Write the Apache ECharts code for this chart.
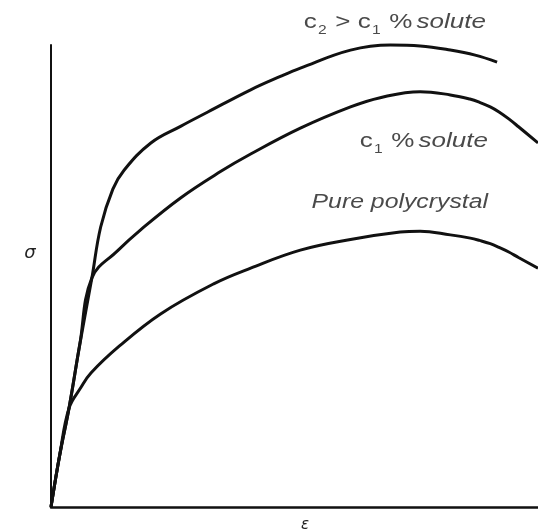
<!DOCTYPE html>
<html>
<head>
<meta charset="utf-8">
<script src="https://cdn.jsdelivr.net/npm/echarts@6/dist/echarts.min.js"></script>
<style>
  html, body { margin: 0; padding: 0; background: #fff; }
  #chart { width: 538px; height: 531px; }
</style>
</head>
<body>
<div id="chart"></div>
<script>
// Strain (ε) and stress (σ) in arbitrary units (axis spans 0–100 on both)
const strainPure = [0, 1.8, 3.7, 6.1, 8.2, 14.0, 22.5, 33.4, 41.0, 51.2, 61.5, 71.7, 75.8, 82.0, 86.1, 88.0, 90.2, 92.0, 94.0, 96.0, 100];
const stressPure = [0, 11.3, 21.4, 25.8, 29.0, 34.8, 41.8, 48.3, 51.7, 55.6, 57.9, 59.5, 59.7, 58.9, 58.2, 57.7, 57.0, 56.2, 55.2, 54.0, 51.7];

const strainC1 = [0, 1.8, 3.7, 5.9, 8.4, 13.7, 18.4, 26.6, 34.8, 41.0, 51.2, 61.5, 67.6, 75.8, 82.0, 86.0, 88.0, 90.2, 92.0, 94.0, 96.0, 100];
const stressC1 = [0, 11.3, 21.4, 35.1, 49.6, 55.5, 60.0, 66.9, 72.6, 76.4, 82.0, 86.6, 88.6, 89.9, 89.2, 88.3, 87.6, 86.6, 85.5, 84.0, 82.3, 78.8];

const strainC2 = [0, 1.8, 3.7, 5.9, 8.4, 10.2, 12.7, 15.0, 20.5, 26.6, 32.2, 41.0, 47.1, 51.2, 61.5, 69.7, 75.8, 82.0, 87.1, 91.6];
const stressC2 = [0, 11.3, 21.4, 35.1, 49.6, 60.6, 68.8, 72.9, 78.8, 82.4, 85.5, 90.3, 93.2, 95.0, 98.9, 100, 99.8, 98.9, 97.8, 96.3];

const seriesNames = ['c₂ > c₁ % solute', 'c₁ % solute', 'Pure polycrystal'];
const axisNames = ['ε', 'σ'];

function zip(xs, ys) { return xs.map((x, i) => [x, ys[i]]); }

const chart = echarts.init(document.getElementById('chart'), null, { renderer: 'canvas' });

const lineStyle = { color: '#111', width: 3 };
const textColor = '#4a4a4a';
const richStyles = {
  n: { fontFamily: 'Liberation Sans', fontSize: 20, lineHeight: 22, verticalAlign: 'top', fill: textColor },
  s: { fontFamily: 'Liberation Sans', fontSize: 12, lineHeight: 12, padding: [13, 1, 0, 1], verticalAlign: 'top', fill: textColor },
  i: { fontFamily: 'Liberation Sans', fontStyle: 'italic', fontSize: 20, lineHeight: 22, verticalAlign: 'top', fill: textColor }
};

chart.setOption({
  animation: false,
  backgroundColor: '#fff',
  grid: { left: 51, right: 0, top: 45, bottom: 24 },
  xAxis: {
    type: 'value', min: 0, max: 100,
    axisLine: { show: true, lineStyle: { color: '#111', width: 2.5 } },
    axisTick: { show: false }, axisLabel: { show: false }, splitLine: { show: false }
  },
  yAxis: {
    type: 'value', min: 0, max: 100,
    axisLine: { show: true, lineStyle: { color: '#111', width: 2 } },
    axisTick: { show: false }, axisLabel: { show: false }, splitLine: { show: false }
  },
  series: [
    { name: seriesNames[0], type: 'line', data: zip(strainC2, stressC2), smooth: 0.4, showSymbol: false, clip: false, lineStyle },
    { name: seriesNames[1], type: 'line', data: zip(strainC1, stressC1), smooth: 0.4, showSymbol: false, clip: false, lineStyle },
    { name: seriesNames[2], type: 'line', data: zip(strainPure, stressPure), smooth: 0.4, showSymbol: false, clip: false, lineStyle }
  ],
  graphic: [
    {
      type: 'text', x: 486, y: 23, scaleX: 1.3,
      style: {
        text: '{n|c}{s|2}{n| > c}{s|1}{n| %} {i|solute}',
        textAlign: 'right', textVerticalAlign: 'middle', rich: richStyles
      }
    },
    {
      type: 'text', x: 488, y: 142, scaleX: 1.3,
      style: {
        text: '{n|c}{s|1}{n| %} {i|solute}',
        textAlign: 'right', textVerticalAlign: 'middle', rich: richStyles
      }
    },
    {
      type: 'text', x: 488, y: 202, scaleX: 1.24,
      style: {
        text: seriesNames[2], fill: textColor,
        font: 'italic 20px "Liberation Sans"',
        textAlign: 'right', textVerticalAlign: 'middle'
      }
    },
    {
      type: 'text', x: 30, y: 253,
      style: { text: axisNames[1], fill: '#222', font: 'italic 18px "DejaVu Sans"', textAlign: 'center', textVerticalAlign: 'middle' }
    },
    {
      type: 'text', x: 305, y: 525,
      style: { text: axisNames[0], fill: '#222', font: 'italic 15px "DejaVu Sans"', textAlign: 'center', textVerticalAlign: 'middle' }
    }
  ]
});
</script>
</body>
</html>
